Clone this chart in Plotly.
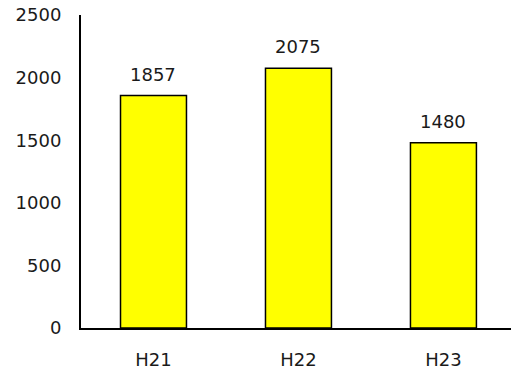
import plotly.graph_objects as go

categories = ["H21", "H22", "H23"]
values = [1857, 2075, 1480]
y_ticks = [0, 500, 1000, 1500, 2000, 2500]

FONT = "DejaVu Sans"
SIZE = 18

fig = go.Figure()
fig.add_trace(go.Bar(
    x=categories,
    y=values,
    marker=dict(color="#FFFF00", line=dict(color="#000000", width=1.5)),
    width=0.455,
))

for c, v in zip(categories, values):
    fig.add_annotation(x=c, y=v, text=str(v), showarrow=False,
                       yanchor="bottom", yshift=9,
                       font=dict(family=FONT, size=SIZE, color="#1a1a1a"))

fig.update_layout(
    width=511, height=372,
    margin=dict(l=81, r=0, t=15, b=44),
    paper_bgcolor="white", plot_bgcolor="white",
    showlegend=False,
    font=dict(family=FONT, size=SIZE, color="#1a1a1a"),
)
fig.update_xaxes(
    range=[-0.5, 2.466],
    showline=True, linecolor="#000000", linewidth=2,
    ticks="", showgrid=False, zeroline=False,
    ticklabelstandoff=14,
)
fig.update_yaxes(
    range=[0, 2500], tickvals=y_ticks,
    showline=True, linecolor="#000000", linewidth=2,
    ticks="", showgrid=False, zeroline=False,
    ticklabelstandoff=14,
)

fig.write_html("out.html")
